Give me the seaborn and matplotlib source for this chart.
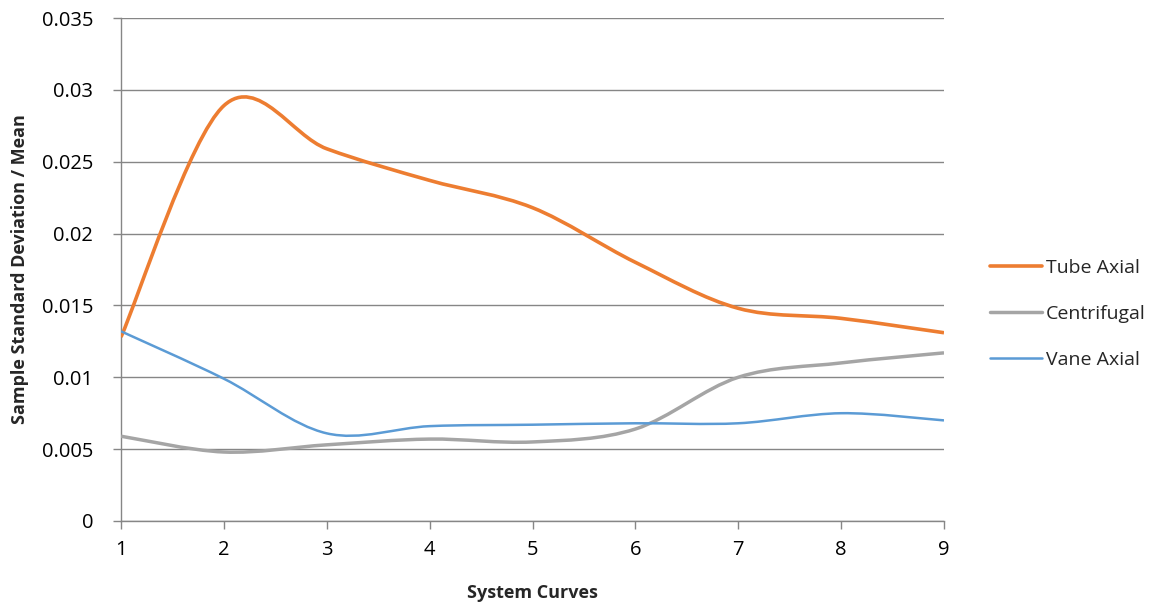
import numpy as np
import pandas as pd
import matplotlib
matplotlib.use("Agg")
import matplotlib.pyplot as plt
from matplotlib.path import Path
from matplotlib.patches import PathPatch
import seaborn as sns

# values (Excel smoothed line chart)
curves = [1, 2, 3, 4, 5, 6, 7, 8, 9]
tube_axial = [0.0128, 0.0289, 0.0259, 0.0237, 0.0218, 0.0180, 0.0148, 0.0141, 0.0131]
centrifugal = [0.0059, 0.0048, 0.0053, 0.0057, 0.0055, 0.0064, 0.0100, 0.0110, 0.0117]
vane_axial = [0.0132, 0.0099, 0.0061, 0.0066, 0.0067, 0.0068, 0.0068, 0.0075, 0.0070]

fans = ["Tube Axial", "Centrifugal", "Vane Axial"]
colors = {"Tube Axial": "#ED7D31", "Centrifugal": "#A5A5A5", "Vane Axial": "#5B9BD5"}
widths = {"Tube Axial": 2.6, "Centrifugal": 2.5, "Vane Axial": 1.8}

df = pd.DataFrame({
    "curve": curves * 3,
    "value": tube_axial + centrifugal + vane_axial,
    "fan": [f for f in fans for _ in curves],
})

sns.set_theme(style="white")
plt.rcParams["font.family"] = ["Open Sans", "DejaVu Sans"]

fig = plt.figure(figsize=(11.65, 6.1), dpi=100)
ax = fig.add_axes([121 / 1165, 1 - 521 / 610, (944 - 121) / 1165, (521 - 18) / 610])

sns.lineplot(data=df, x="curve", y="value", hue="fan", hue_order=fans,
             palette=colors, ax=ax, legend=False)


def smooth_path(x, y):
    # Excel-style smoothing: cubic bezier with catmull-rom control points
    pts = np.column_stack([x, y])
    verts = [pts[0]]
    codes = [Path.MOVETO]
    n = len(pts)
    for i in range(n - 1):
        p0 = pts[max(i - 1, 0)]
        p1 = pts[i]
        p2 = pts[i + 1]
        p3 = pts[min(i + 2, n - 1)]
        verts += [p1 + (p2 - p0) / 6, p2 - (p3 - p1) / 6, p2]
        codes += [Path.CURVE4] * 3
    return Path(verts, codes)


for line, fan in zip(list(ax.lines), fans):
    x, y = line.get_xdata(), line.get_ydata()
    line.set_visible(False)
    ax.add_patch(PathPatch(smooth_path(x, y), facecolor="none",
                           edgecolor=colors[fan], lw=widths[fan],
                           capstyle="butt", zorder=3))

ax.set_xlim(1, 9)
ax.set_ylim(0, 0.035)
ax.set_xticks(curves)
ax.set_yticks(np.arange(0, 0.0351, 0.005))
ax.set_yticklabels(["0", "0.005", "0.01", "0.015", "0.02", "0.025", "0.03", "0.035"])
ax.yaxis.grid(True, color="#868686", lw=1)
ax.xaxis.grid(False)
for s in ["top", "right"]:
    ax.spines[s].set_visible(False)
for s in ["left", "bottom"]:
    ax.spines[s].set_color("#868686")
    ax.spines[s].set_linewidth(1)
ax.tick_params(axis="both", which="major", direction="out", length=6, width=1,
               color="#868686", labelsize=14.5, labelcolor="black",
               bottom=True, left=True)
ax.tick_params(axis="y", pad=14)
ax.tick_params(axis="x", pad=8)

ax.set_xlabel("System Curves", fontsize=13, fontweight="bold", labelpad=17)
ax.set_ylabel("Sample Standard Deviation / Mean", fontsize=13, fontweight="bold", labelpad=9)

handles = [plt.Line2D([], [], color=colors[f], lw=widths[f]) for f in fans]
fig.legend(handles, fans, loc="center left", bbox_to_anchor=(972 / 1165, 1 - 314 / 610),
           frameon=False, fontsize=14, handlelength=2.7, labelspacing=1.45,
           handletextpad=0.2)

fig.savefig("out.png", dpi=100)
